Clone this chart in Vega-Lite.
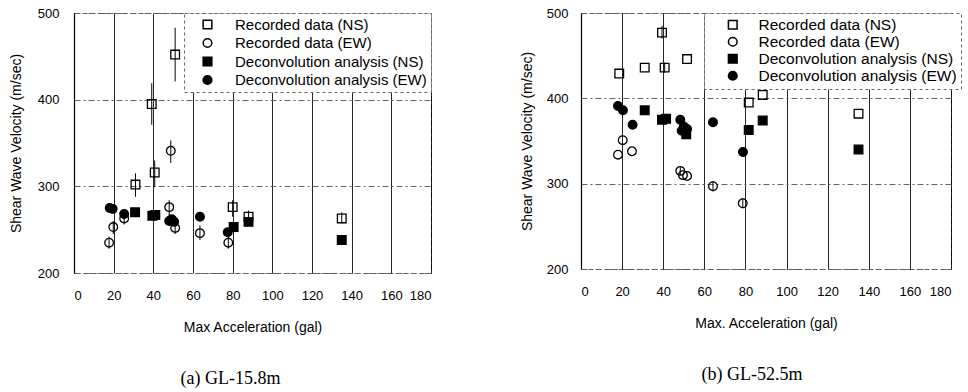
{
  "$schema": "https://vega.github.io/schema/vega-lite/v6.json",
  "padding": {"left": 8, "top": 6, "right": 0, "bottom": 0},
  "spacing": 87,
  "datasets": {
    "a": [
      {"series": "Recorded data (NS)", "acc": 31, "vs": 302, "lo": 288, "hi": 315},
      {"series": "Recorded data (NS)", "acc": 39.2, "vs": 395, "lo": 371, "hi": 419},
      {"series": "Recorded data (NS)", "acc": 40.7, "vs": 316, "lo": 299, "hi": 330},
      {"series": "Recorded data (NS)", "acc": 51, "vs": 452, "lo": 421, "hi": 483},
      {"series": "Recorded data (NS)", "acc": 80, "vs": 276, "lo": 265, "hi": 284},
      {"series": "Recorded data (NS)", "acc": 88, "vs": 265, "lo": 259, "hi": 272},
      {"series": "Recorded data (NS)", "acc": 135, "vs": 263, "lo": 257, "hi": 270},
      {"series": "Recorded data (EW)", "acc": 17.7, "vs": 235, "lo": 228, "hi": 242},
      {"series": "Recorded data (EW)", "acc": 19.8, "vs": 253, "lo": 245, "hi": 260},
      {"series": "Recorded data (EW)", "acc": 25.3, "vs": 263, "lo": 256, "hi": 268},
      {"series": "Recorded data (EW)", "acc": 48, "vs": 276, "lo": 265, "hi": 284},
      {"series": "Recorded data (EW)", "acc": 48.8, "vs": 341, "lo": 327, "hi": 353},
      {"series": "Recorded data (EW)", "acc": 51, "vs": 252, "lo": 245, "hi": 260},
      {"series": "Recorded data (EW)", "acc": 63.5, "vs": 246, "lo": 238, "hi": 255},
      {"series": "Recorded data (EW)", "acc": 77.8, "vs": 235, "lo": 228, "hi": 242},
      {"series": "Deconvolution analysis (NS)", "acc": 30.8, "vs": 270},
      {"series": "Deconvolution analysis (NS)", "acc": 39.5, "vs": 266},
      {"series": "Deconvolution analysis (NS)", "acc": 41, "vs": 267},
      {"series": "Deconvolution analysis (NS)", "acc": 80.5, "vs": 253},
      {"series": "Deconvolution analysis (NS)", "acc": 88, "vs": 259},
      {"series": "Deconvolution analysis (NS)", "acc": 135, "vs": 238},
      {"series": "Deconvolution analysis (EW)", "acc": 18, "vs": 275},
      {"series": "Deconvolution analysis (EW)", "acc": 19.5, "vs": 274},
      {"series": "Deconvolution analysis (EW)", "acc": 25.3, "vs": 268},
      {"series": "Deconvolution analysis (EW)", "acc": 48, "vs": 260},
      {"series": "Deconvolution analysis (EW)", "acc": 50.5, "vs": 259},
      {"series": "Deconvolution analysis (EW)", "acc": 49.3, "vs": 262},
      {"series": "Deconvolution analysis (EW)", "acc": 63.5, "vs": 265},
      {"series": "Deconvolution analysis (EW)", "acc": 77.5, "vs": 247}
    ],
    "b": [
      {"series": "Recorded data (NS)", "acc": 18.6, "vs": 429},
      {"series": "Recorded data (NS)", "acc": 31, "vs": 436},
      {"series": "Recorded data (NS)", "acc": 39.4, "vs": 477, "lo": 470, "hi": 485},
      {"series": "Recorded data (NS)", "acc": 40.7, "vs": 436, "lo": 430, "hi": 442},
      {"series": "Recorded data (NS)", "acc": 51.6, "vs": 446},
      {"series": "Recorded data (NS)", "acc": 81.6, "vs": 395},
      {"series": "Recorded data (NS)", "acc": 88.4, "vs": 404},
      {"series": "Recorded data (NS)", "acc": 135, "vs": 382},
      {"series": "Recorded data (EW)", "acc": 18, "vs": 334},
      {"series": "Recorded data (EW)", "acc": 20.3, "vs": 351},
      {"series": "Recorded data (EW)", "acc": 24.8, "vs": 338},
      {"series": "Recorded data (EW)", "acc": 48.3, "vs": 315, "lo": 310, "hi": 320},
      {"series": "Recorded data (EW)", "acc": 49.6, "vs": 310},
      {"series": "Recorded data (EW)", "acc": 51.6, "vs": 309},
      {"series": "Recorded data (EW)", "acc": 64.2, "vs": 297, "lo": 291, "hi": 303},
      {"series": "Recorded data (EW)", "acc": 78.7, "vs": 277, "lo": 271, "hi": 283},
      {"series": "Deconvolution analysis (NS)", "acc": 31, "vs": 386},
      {"series": "Deconvolution analysis (NS)", "acc": 39.4, "vs": 375},
      {"series": "Deconvolution analysis (NS)", "acc": 41.4, "vs": 376},
      {"series": "Deconvolution analysis (NS)", "acc": 51.2, "vs": 358},
      {"series": "Deconvolution analysis (NS)", "acc": 81.6, "vs": 363},
      {"series": "Deconvolution analysis (NS)", "acc": 88.4, "vs": 374},
      {"series": "Deconvolution analysis (NS)", "acc": 135, "vs": 340},
      {"series": "Deconvolution analysis (EW)", "acc": 18, "vs": 391},
      {"series": "Deconvolution analysis (EW)", "acc": 20.4, "vs": 386},
      {"series": "Deconvolution analysis (EW)", "acc": 25.1, "vs": 369},
      {"series": "Deconvolution analysis (EW)", "acc": 48.3, "vs": 375},
      {"series": "Deconvolution analysis (EW)", "acc": 50, "vs": 367},
      {"series": "Deconvolution analysis (EW)", "acc": 51.6, "vs": 364},
      {"series": "Deconvolution analysis (EW)", "acc": 49, "vs": 362},
      {"series": "Deconvolution analysis (EW)", "acc": 64.2, "vs": 372},
      {"series": "Deconvolution analysis (EW)", "acc": 78.8, "vs": 337}
    ]
  },
  "hconcat": [
    {
      "width": 357,
      "height": 260,
      "data": {"name": "a"},
      "title": {"text": "(a)  GL-15.8m", "orient": "bottom", "font": "Liberation Serif", "fontSize": 18, "fontWeight": "normal", "color": "black", "offset": 36, "dx": -22},
      "encoding": {
        "x": {"field": "acc", "type": "quantitative", "title": "Max Acceleration (gal)", "scale": {"domain": [0, 180], "nice": false}, "axis": {"values": [0, 20, 40, 60, 80, 100, 120, 140, 160, 180], "labelOverlap": false}}
      },
      "layer": [
        {
          "transform": [{"filter": "isValid(datum.lo)"}],
          "mark": {"type": "rule", "color": "black", "strokeWidth": 1},
          "encoding": {
            "y": {"field": "lo", "type": "quantitative", "scale": {"domain": [200, 500], "nice": false, "zero": false}, "title": "Shear Wave Velocity (m/sec)", "axis": {"values": [200, 300, 400, 500]}},
            "y2": {"field": "hi"}
          }
        },
        {
          "mark": {"type": "point", "filled": true, "stroke": "black", "strokeWidth": 1.3, "size": 75, "opacity": 1},
          "encoding": {
            "y": {"field": "vs", "type": "quantitative", "title": "Shear Wave Velocity (m/sec)", "scale": {"domain": [200, 500], "nice": false, "zero": false}, "axis": {"values": [200, 300, 400, 500]}},
            "shape": {"field": "series", "type": "nominal", "scale": {"domain": ["Recorded data (NS)", "Recorded data (EW)", "Deconvolution analysis (NS)", "Deconvolution analysis (EW)"], "range": ["square", "circle", "square", "circle"]},
              "legend": {"title": null, "orient": "none", "legendX": 110, "legendY": 0, "labelFontSize": 15, "labelLimit": 400, "symbolSize": 75, "rowPadding": 2.5, "padding": 4, "symbolOffset": 12, "labelOffset": 20, "fillColor": "white", "strokeColor": "#666", "encode": {"symbols": {"update": {"stroke": {"value": "black"}, "strokeWidth": {"value": 1.3}}}}}},
            "fill": {"field": "series", "type": "nominal", "scale": {"domain": ["Recorded data (NS)", "Recorded data (EW)", "Deconvolution analysis (NS)", "Deconvolution analysis (EW)"], "range": ["transparent", "transparent", "black", "black"]},
              "legend": {"title": null, "orient": "none", "legendX": 110, "legendY": 0, "labelFontSize": 15, "labelLimit": 400, "symbolSize": 75, "rowPadding": 2.5, "padding": 4, "symbolOffset": 12, "labelOffset": 20, "fillColor": "white", "strokeColor": "#666", "encode": {"symbols": {"update": {"stroke": {"value": "black"}, "strokeWidth": {"value": 1.3}}}}}}
          }
        }
      ]
    },
    {
      "width": 370,
      "height": 256,
      "data": {"name": "b"},
      "title": {"text": "(b)  GL-52.5m", "orient": "bottom", "font": "Liberation Serif", "fontSize": 18, "fontWeight": "normal", "color": "black", "offset": 36, "dx": -14},
      "encoding": {
        "x": {"field": "acc", "type": "quantitative", "title": "Max. Acceleration (gal)", "scale": {"domain": [0, 180], "nice": false}, "axis": {"values": [0, 20, 40, 60, 80, 100, 120, 140, 160, 180], "labelOverlap": false}}
      },
      "layer": [
        {
          "transform": [{"filter": "isValid(datum.lo)"}],
          "mark": {"type": "rule", "color": "black", "strokeWidth": 1},
          "encoding": {
            "y": {"field": "lo", "type": "quantitative", "scale": {"domain": [200, 500], "nice": false, "zero": false}, "title": "Shear Wave Velocity (m/sec)", "axis": {"values": [200, 300, 400, 500], "labelPadding": 13, "titlePadding": 12}},
            "y2": {"field": "hi"}
          }
        },
        {
          "mark": {"type": "point", "filled": true, "stroke": "black", "strokeWidth": 1.3, "size": 75, "opacity": 1},
          "encoding": {
            "y": {"field": "vs", "type": "quantitative", "title": "Shear Wave Velocity (m/sec)", "scale": {"domain": [200, 500], "nice": false, "zero": false}, "axis": {"values": [200, 300, 400, 500], "labelPadding": 13, "titlePadding": 12}},
            "shape": {"field": "series", "type": "nominal", "scale": {"domain": ["Recorded data (NS)", "Recorded data (EW)", "Deconvolution analysis (NS)", "Deconvolution analysis (EW)"], "range": ["square", "circle", "square", "circle"]},
              "legend": {"title": null, "orient": "none", "legendX": 123, "legendY": 0, "labelFontSize": 15.5, "labelLimit": 400, "symbolSize": 75, "rowPadding": -5, "padding": 4, "symbolOffset": 17, "labelOffset": 18, "fillColor": "white", "strokeColor": "#666", "encode": {"symbols": {"update": {"stroke": {"value": "black"}, "strokeWidth": {"value": 1.3}}}}}},
            "fill": {"field": "series", "type": "nominal", "scale": {"domain": ["Recorded data (NS)", "Recorded data (EW)", "Deconvolution analysis (NS)", "Deconvolution analysis (EW)"], "range": ["transparent", "transparent", "black", "black"]},
              "legend": {"title": null, "orient": "none", "legendX": 123, "legendY": 0, "labelFontSize": 15.5, "labelLimit": 400, "symbolSize": 75, "rowPadding": -5, "padding": 4, "symbolOffset": 17, "labelOffset": 18, "fillColor": "white", "strokeColor": "#666", "encode": {"symbols": {"update": {"stroke": {"value": "black"}, "strokeWidth": {"value": 1.3}}}}}}
          }
        }
      ]
    }
  ],
  "resolve": {"scale": {"shape": "independent", "fill": "independent"}},
  "config": {
    "font": "Liberation Sans",
    "view": {"stroke": "#555", "strokeDash": [5, 3], "strokeWidth": 1},
    "legend": {"labelFont": "Liberation Sans", "labelColor": "black", "strokeDash": [3, 3]},
    "axis": {"labelFont": "Liberation Sans", "labelFontSize": 13, "labelColor": "black", "labelOverlap": false, "titleFont": "Liberation Sans", "titleFontSize": 14, "titleFontWeight": "normal", "titleColor": "black", "ticks": false, "grid": true, "domainColor": "black"},
    "axisX": {"gridColor": "black", "gridOpacity": 0.85, "gridWidth": 1, "domain": false, "labelPadding": 16, "titlePadding": 18},
    "axisY": {"gridColor": "#666", "gridDash": [6, 3, 2, 3], "domainColor": "black", "domainWidth": 1.2, "labelPadding": 15, "titlePadding": 14}
  }
}
